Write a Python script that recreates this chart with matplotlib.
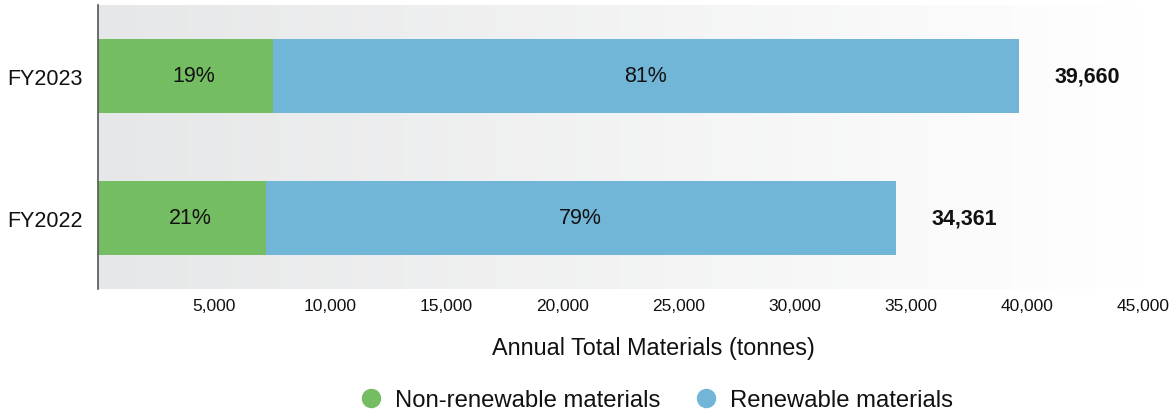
import numpy as np
import matplotlib
matplotlib.use("Agg")
import matplotlib.pyplot as plt
from matplotlib.lines import Line2D

plt.rcParams['font.family'] = ['Liberation Sans', 'DejaVu Sans']

years = ["FY2022", "FY2023"]
totals = [34361, 39660]
nonrenew_pct = [21, 19]
renew_pct = [79, 81]
xticks = [5000, 10000, 15000, 20000, 25000, 30000, 35000, 40000, 45000]

green = "#74bd62"
blue = "#72b6d7"

fig = plt.figure(figsize=(11.73, 4.14), dpi=100)
ax = fig.add_axes([98/1173, 1 - 289.5/414, (1143 - 98)/1173, 283.5/414])

ax.set_xlim(0, 45000)
ax.set_ylim(-0.5, 1.5)

# gradient background
grad = np.linspace(0, 1, 256)
c0 = np.array([230, 231, 232]) / 255
c1 = np.array([255, 255, 255]) / 255
img = (c0[None, :] * (1 - grad[:, None]) + c1[None, :] * grad[:, None])[None, :, :]
ax.imshow(img, extent=[0, 45000, -0.5, 1.5], aspect='auto', zorder=0)

y = np.arange(len(years))
nr_vals = [t * p / 100 for t, p in zip(totals, nonrenew_pct)]
r_vals = [t - n for t, n in zip(totals, nr_vals)]
bh = 0.522
ax.barh(y, nr_vals, height=bh, color=green, zorder=2)
ax.barh(y, r_vals, left=nr_vals, height=bh, color=blue, zorder=2)

for i in range(len(years)):
    ax.text(nr_vals[i] / 2 + 350, y[i], f"{nonrenew_pct[i]}%", ha='center', va='center',
            fontsize=15.5, color='#111111', zorder=3)
    ax.text(nr_vals[i] + r_vals[i] / 2, y[i], f"{renew_pct[i]}%", ha='center', va='center',
            fontsize=15.5, color='#111111', zorder=3)
    ax.text(totals[i] + 1550, y[i], f"{totals[i]:,}", ha='left', va='center',
            fontsize=15.5, fontweight='bold', color='#111111', zorder=3)

ax.set_yticks(y)
ax.set_yticklabels(years, fontsize=15.5, color='#111111')
ax.set_xticks(xticks)
ax.set_xticklabels([f"{v:,}" for v in xticks], fontsize=12.5, color='#111111')
ax.tick_params(axis='both', length=0)
ax.tick_params(axis='y', pad=11)
ax.tick_params(axis='x', pad=7)

for s in ['top', 'right', 'bottom']:
    ax.spines[s].set_visible(False)
ax.spines['left'].set_color('#555555')
ax.spines['left'].set_linewidth(1.2)
ax.spines['left'].set_zorder(4)

ax.set_xlabel("Annual Total Materials (tonnes)", fontsize=16.8, color='#111111')
ax.xaxis.set_label_coords((653 - 98) / (1143 - 98), (289 - 348) / 283)
ax.xaxis.label.set_va('center')

handles = [
    Line2D([], [], marker='o', linestyle='none', markersize=13, color=green),
    Line2D([], [], marker='o', linestyle='none', markersize=13, color=blue),
]
fig.legend(handles, ["Non-renewable materials", "Renewable materials"],
           loc='center', bbox_to_anchor=(657 / 1173, 1 - 401 / 414), ncol=2,
           frameon=False, fontsize=17.2, handlelength=0.8, handletextpad=0.6,
           columnspacing=1.5, borderpad=0, labelcolor='#111111')

fig.savefig("out.png", dpi=100)
